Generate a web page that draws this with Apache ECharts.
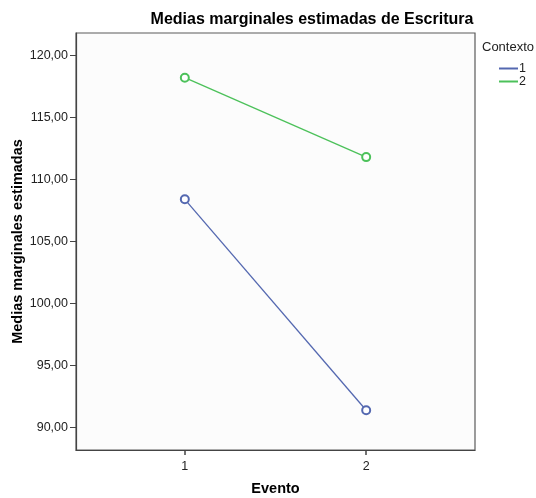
<!DOCTYPE html>
<html>
<head>
<meta charset="utf-8">
<script src="https://cdn.jsdelivr.net/npm/echarts@6/dist/echarts.min.js"></script>
<style>html,body{margin:0;padding:0;background:#fff}#c{width:536px;height:498px}</style>
</head>
<body>
<div id="c"></div>
<script>
var eventos = [1, 2];
var contexto1 = [108.4, 91.4];
var contexto2 = [118.2, 111.8];
var yTicks = [90, 95, 100, 105, 110, 115, 120];
var xTicks = [1, 2];
var seriesNames = ['1', '2'];

var FONT = '"Liberation Sans", Arial, sans-serif';
var chart = echarts.init(document.getElementById('c'));
function pts(vals){ return eventos.map(function(e,i){ return [e, vals[i]]; }); }
chart.setOption({
  animation: false,
  textStyle: { fontFamily: FONT },
  grid: { left: 76, right: 61, top: 33, bottom: 48, containLabel: false, outerBoundsMode: 'none',
    show: true, borderColor: '#5a5a5a', borderWidth: 1.2, backgroundColor: '#fcfcfc' },
  graphic: [
    { type: 'text', x: 312, y: 20, style: { text: 'Medias marginales estimadas de Escritura', font: 'bold 16px ' + FONT, fill: '#000', textAlign: 'center', textVerticalAlign: 'middle' } },
    { type: 'text', x: 482, y: 47, style: { text: 'Contexto', font: '13px ' + FONT, fill: '#222', textAlign: 'left', textVerticalAlign: 'middle' } }
  ],
  legend: {
    orient: 'vertical', left: 494, top: 57, icon: 'rect', itemWidth: 19, itemHeight: 2, itemGap: 0,
    textStyle: { fontSize: 12.5, color: '#222', fontFamily: FONT, padding: [0,0,0,-4] },
    data: seriesNames
  },
  xAxis: {
    type: 'value', min: 0.4, max: 2.6,
    name: 'Evento', nameLocation: 'middle', nameGap: 31, nameMoveOverlap: false,
    nameTextStyle: { fontWeight: 'bold', fontSize: 14.5, color: '#000', fontFamily: FONT },
    axisLine: { show: true, lineStyle: { color: '#444', width: 1.2 } },
    axisTick: { show: true, length: 5, customValues: xTicks, lineStyle: { color: '#444', width: 1.5 } },
    axisLabel: { customValues: xTicks, fontSize: 12.5, color: '#222', margin: 10 },
    splitLine: { show: false }
  },
  yAxis: {
    type: 'value', min: 88.2, max: 121.8,
    name: 'Medias marginales estimadas', nameLocation: 'middle', nameGap: 51, nameMoveOverlap: false,
    nameTextStyle: { fontWeight: 'bold', fontSize: 14.5, color: '#000', fontFamily: FONT },
    axisLine: { show: true, lineStyle: { color: '#444', width: 1.2 } },
    axisTick: { show: true, length: 6, customValues: yTicks, lineStyle: { color: '#444', width: 1 } },
    axisLabel: { customValues: yTicks, fontSize: 12.5, color: '#222', margin: 8,
      formatter: function(v){ return v.toFixed(2).replace('.', ','); } },
    splitLine: { show: false }
  },
  series: [
    { name: seriesNames[0], type: 'line', data: pts(contexto1), symbol: 'emptyCircle', symbolSize: 8,
      lineStyle: { color: '#5468b0', width: 1.3 }, itemStyle: { color: '#5468b0', borderWidth: 1.3 } },
    { name: seriesNames[1], type: 'line', data: pts(contexto2), symbol: 'emptyCircle', symbolSize: 8,
      lineStyle: { color: '#4cc15a', width: 1.3 }, itemStyle: { color: '#4cc15a', borderWidth: 1.3 } }
  ]
});
</script>
</body>
</html>
